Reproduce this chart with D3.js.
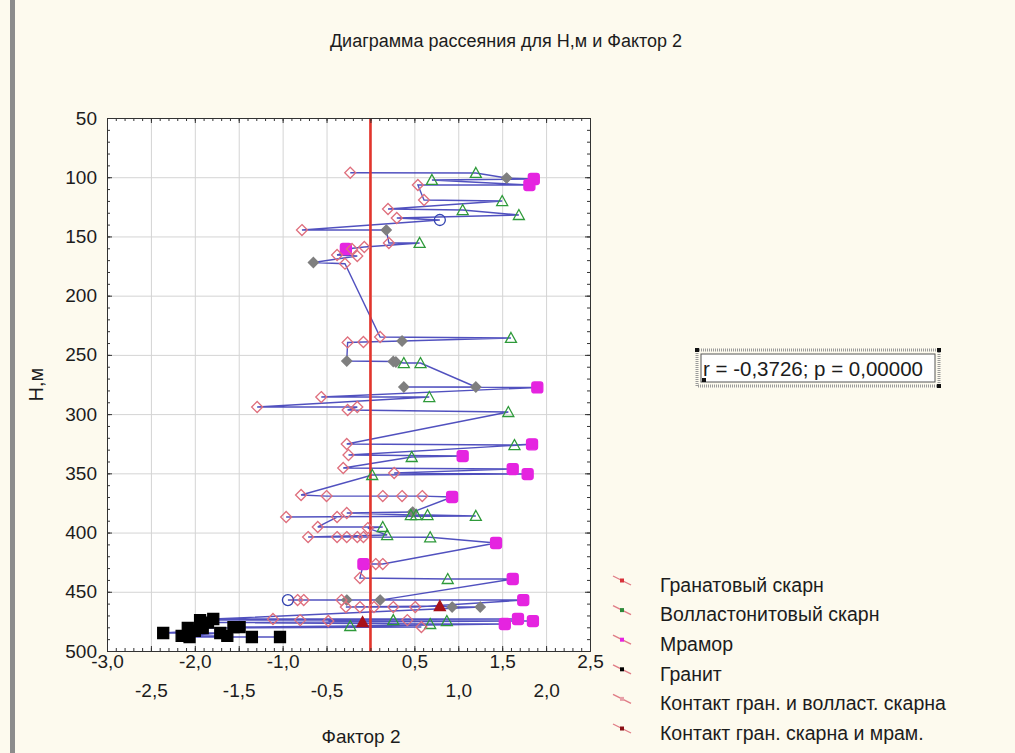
<!DOCTYPE html>
<html>
<head>
<meta charset="utf-8">
<script src="https://cdn.jsdelivr.net/npm/d3@7"></script>
<style>
  body { margin: 0; background: #fdfaee; }
  svg text { font-family: "Liberation Sans", Arial, sans-serif; fill: #1c1c1c; }
</style>
</head>
<body>
<svg id="chart" width="1015" height="753"></svg>
<script>
// legend categories (the 7th, open blue circles, has no visible legend row)
const rockTypes = [
  "Гранатовый скарн",
  "Волластонитовый скарн",
  "Мрамор",
  "Гранит",
  "Контакт гран. и волласт. скарна",
  "Контакт гран. скарна и мрам.",
  ""
];

// samples in depth order: H (m), Factor 2 score, rock type index
const depthM = [
  96.2, 96.4, 100.7, 101.5, 102.3, 106.6, 106.6, 119.2, 120.1, 126.8,
  127.7, 131.9, 134.4, 136.1, 144.6, 144.6, 155.5, 155.5, 158.9, 160.6,
  160.6, 165.7, 166.5, 172.0, 173.0,
  234.9, 235.7, 238.3, 239.1, 239.5, 255.2, 255.6, 256.0, 256.9, 256.9,
  277.1, 277.1, 277.5, 285.6, 285.6, 294.0, 294.0, 296.5, 298.2,
  325.2, 326.1, 325.5, 334.5, 335.4, 336.2, 345.5, 346.4, 349.7, 350.6, 351.4,
  368.3, 369.2, 369.2, 369.2, 369.2, 370.0,
  382.7, 383.5, 385.2, 385.2, 385.2, 386.0, 386.9, 386.9,
  395.3, 395.3, 396.2, 402.1, 403.8, 403.8, 403.8, 403.8, 403.8, 404.0, 408.8,
  426.6, 426.6, 426.6, 438.4, 439.2, 439.2,
  457.0, 457.0, 457.0, 457.0, 457.0, 457.0, 457.0,
  462.9, 462.9, 462.9, 462.9, 462.9, 462.0, 462.9, 462.9,
  473.0, 473.0, 473.0, 473.9, 473.9, 473.9, 473.9, 474.7, 474.7, 474.7,
  475.5, 476.0, 477.2, 477.2, 478.9, 479.8, 479.8, 479.8, 480.6, 480.6,
  483.0, 484.8, 484.8, 487.3, 487.3, 488.2, 488.2, 488.2
];
const factor2 = [
  -0.23, 1.20, 1.55, 1.86, 0.70, 1.81, 0.54, 0.61, 1.50, 0.20,
  1.05, 1.69, 0.30, 0.79, -0.78, 0.18, 0.21, 0.56, -0.07, -0.28,
  -0.21, -0.38, -0.15, -0.65, -0.29,
  0.11, 1.60, 0.36, -0.08, -0.26, -0.27, 0.26, 0.29, 0.38, 0.57,
  1.20, 0.38, 1.90, -0.56, 0.67, -1.29, -0.15, -0.26, 1.57,
  -0.27, 1.64, 1.84, -0.25, 1.05, 0.47, -0.31, 1.62, 0.27, 1.79, 0.02,
  -0.79, -0.50, 0.14, 0.36, 0.59, 0.93,
  0.48, -0.27, 0.46, 0.52, 0.65, 1.20, -0.96, -0.38,
  -0.60, 0.14, -0.03, 0.19, -0.71, -0.38, -0.27, -0.15, -0.08, 0.68, 1.43,
  0.14, 0.06, -0.08, -0.12, 0.88, 1.62,
  0.11, -0.27, -0.33, -0.76, -0.83, -0.94, 1.74,
  0.51, 0.26, 0.04, -0.12, -0.28, 0.79, 0.93, 1.25,
  -1.79, -1.11, 1.68, -1.94, -0.80, 0.26, 0.42, -0.48, 0.87, 1.85,
  -0.09, -1.85, 0.68, 1.53, -0.23, -1.56, -1.49, 0.58, -2.08, -1.91,
  -2.00, -2.36, -1.71, -2.15, -1.63, -2.06, -1.35, -1.03
];
const rockType = [
  0, 1, 4, 2, 1, 2, 0, 0, 1, 0,
  1, 1, 0, 6, 0, 4, 0, 1, 0, 2,
  0, 0, 0, 4, 0,
  0, 1, 4, 0, 0, 4, 4, 4, 1, 1,
  4, 4, 2, 0, 1, 0, 0, 0, 1,
  0, 1, 2, 0, 2, 1, 0, 2, 0, 2, 1,
  0, 0, 0, 0, 0, 2,
  4, 0, 1, 1, 1, 1, 0, 0,
  0, 1, 0, 1, 0, 0, 0, 0, 0, 1, 2,
  0, 0, 2, 0, 1, 2,
  4, 4, 0, 0, 0, 6, 2,
  0, 0, 0, 0, 0, 5, 4, 4,
  3, 0, 2, 3, 0, 1, 0, 0, 1, 2,
  5, 3, 1, 2, 1, 3, 3, 0, 3, 3,
  3, 3, 3, 3, 3, 3, 3, 3
];

const xTicksRow1 = [-3, -2, -1, 0.5, 1.5, 2.5];
const xTicksRow2 = [-2.5, -1.5, -0.5, 1, 2];
const yTicks = [50, 100, 150, 200, 250, 300, 350, 400, 450, 500];
const titleText = "Диаграмма рассеяния для Н,м и Фактор 2";
const corrText = "r = -0,3726; p = 0,00000";

const margin = { top: 118, left: 107, right: 425, bottom: 102 };
const W = 1015, H = 753;
const width = W - margin.left - margin.right;
const height = H - margin.top - margin.bottom;

const svg = d3.select("#chart");
const fmt = d => d.toFixed(1).replace(".", ",");

// left window edge
svg.append("rect").attr("x", 10).attr("y", 0).attr("width", 5).attr("height", H).attr("fill", "#8c8c8c");

svg.append("text")
  .attr("x", 506).attr("y", 47)
  .attr("text-anchor", "middle")
  .style("font-size", "18px")
  .text(titleText);

const x = d3.scaleLinear().domain([-3, 2.5]).range([0, width]);
const y = d3.scaleLinear().domain([50, 500]).range([0, height]);

const g = svg.append("g").attr("transform", "translate(" + margin.left + "," + margin.top + ")");

g.append("rect").attr("width", width).attr("height", height).attr("fill", "#fff");

// grid
g.append("g")
  .attr("transform", "translate(0," + height + ")")
  .call(d3.axisBottom(x).tickValues(d3.range(-3, 2.51, 0.5)).tickSize(-height).tickFormat(""))
  .call(a => a.selectAll("line").attr("stroke", "#d4d4d4"))
  .call(a => a.select(".domain").remove());
g.append("g")
  .call(d3.axisLeft(y).tickValues(yTicks).tickSize(-width).tickFormat(""))
  .call(a => a.selectAll("line").attr("stroke", "#d4d4d4"))
  .call(a => a.select(".domain").remove());

// connecting line through all samples in depth order
const pts = depthM.map((h, i) => ({ h: h, f: factor2[i], t: rockType[i] }));
const line = d3.line().x(d => x(d.f)).y(d => y(d.h));
g.append("path")
  .datum(pts)
  .attr("d", line)
  .attr("fill", "none")
  .attr("stroke", "#3333b4")
  .attr("stroke-opacity", 0.85)
  .attr("stroke-width", 1.4);

// zero reference line
g.append("line")
  .attr("x1", x(0)).attr("x2", x(0))
  .attr("y1", 0).attr("y2", height)
  .attr("stroke", "#e3352c")
  .attr("stroke-width", 2.6);

// markers
const shapes = [
  { d: "M0,-5.5L5.5,0L0,5.5L-5.5,0Z", fill: "none", stroke: "#df6f7d" },
  { d: "M0,-5.5L5.5,4.5L-5.5,4.5Z", fill: "none", stroke: "#2e9a3a" },
  { d: "M-5.5,-3Q-5.5,-5.5 -3,-5.5L3,-5.5Q5.5,-5.5 5.5,-3L5.5,3Q5.5,5.5 3,5.5L-3,5.5Q-5.5,5.5 -5.5,3Z", fill: "#e524e0", stroke: "#e524e0" },
  { d: "M-5.5,-5.5H5.5V5.5H-5.5Z", fill: "#000", stroke: "#000" },
  { d: "M0,-5L5,0L0,5L-5,0Z", fill: "#7f7f7f", stroke: "#7f7f7f" },
  { d: "M0,-5.5L5.5,4.5L-5.5,4.5Z", fill: "#a8121a", stroke: "#a8121a" },
  { d: "M5.5,0A5.5,5.5 0 1,1 -5.5,0A5.5,5.5 0 1,1 5.5,0Z", fill: "none", stroke: "#3344b0" }
];

g.selectAll(".pt")
  .data(pts)
  .enter()
  .append("path")
  .attr("class", "pt")
  .attr("transform", d => "translate(" + x(d.f) + "," + y(d.h) + ")")
  .attr("d", d => shapes[d.t].d)
  .attr("fill", d => shapes[d.t].fill)
  .attr("stroke", d => shapes[d.t].stroke)
  .attr("stroke-width", 1.3);

// axes with inward ticks
function styleAxis(a) {
  a.selectAll("line").attr("stroke", "#333");
  a.select(".domain").attr("stroke", "#333");
  a.selectAll("text").style("font-size", "19px").attr("fill", "#1c1c1c");
}
const minorX = d3.range(-3, 2.501, 0.1);
const minorY = d3.range(50, 500.1, 10);

g.append("g")
  .attr("transform", "translate(0," + height + ")")
  .call(d3.axisBottom(x).tickValues(minorX).tickSizeInner(-3).tickSizeOuter(0).tickFormat(""))
  .call(styleAxis);
g.append("g")
  .attr("transform", "translate(0," + height + ")")
  .call(d3.axisBottom(x).tickValues(xTicksRow1).tickSizeInner(-5).tickSizeOuter(0).tickPadding(4).tickFormat(fmt))
  .call(styleAxis);
g.append("g")
  .attr("transform", "translate(0," + height + ")")
  .call(d3.axisBottom(x).tickValues(xTicksRow2).tickSizeInner(-5).tickSizeOuter(0).tickPadding(33).tickFormat(fmt))
  .call(styleAxis);
g.append("g")
  .call(d3.axisTop(x).tickValues(minorX).tickSizeInner(-3).tickSizeOuter(0).tickFormat(""))
  .call(styleAxis);
g.append("g")
  .call(d3.axisTop(x).tickValues(d3.range(-3, 2.51, 0.5)).tickSizeInner(-5).tickSizeOuter(0).tickFormat(""))
  .call(styleAxis);

g.append("g")
  .call(d3.axisLeft(y).tickValues(minorY).tickSizeInner(-3).tickSizeOuter(0).tickFormat(""))
  .call(styleAxis);
g.append("g")
  .call(d3.axisLeft(y).tickValues(yTicks).tickSizeInner(-5).tickSizeOuter(0).tickPadding(10).tickFormat(d3.format("d")))
  .call(styleAxis);
g.append("g")
  .attr("transform", "translate(" + width + ",0)")
  .call(d3.axisRight(y).tickValues(minorY).tickSizeInner(-3).tickSizeOuter(0).tickFormat(""))
  .call(styleAxis);
g.append("g")
  .attr("transform", "translate(" + width + ",0)")
  .call(d3.axisRight(y).tickValues(yTicks).tickSizeInner(-5).tickSizeOuter(0).tickFormat(""))
  .call(styleAxis);

// axis titles
svg.append("text")
  .attr("transform", "translate(36," + (margin.top + height / 2) + ") rotate(-90)")
  .attr("text-anchor", "middle")
  .attr("dy", "0.35em")
  .style("font-size", "20px")
  .text("Н,м");
svg.append("text")
  .attr("x", 361).attr("y", 743)
  .attr("text-anchor", "middle")
  .style("font-size", "19px")
  .text("Фактор 2");

// correlation label with selection frame
const box = svg.append("g").attr("transform", "translate(697,350)");
box.append("rect").attr("x", 0).attr("y", 0).attr("width", 242).attr("height", 36)
  .attr("fill", "none").attr("stroke", "#9a9a9a").attr("stroke-width", 3).attr("stroke-dasharray", "1,1");
box.append("rect").attr("x", 4).attr("y", 4).attr("width", 234).attr("height", 28)
  .attr("fill", "#fff").attr("stroke", "#555").attr("stroke-width", 1);
[[0, 0], [242, 0], [7, 30], [242, 36]].forEach(c => {
  box.append("rect").attr("x", c[0] - 2).attr("y", c[1] - 2).attr("width", 4).attr("height", 4).attr("fill", "#111");
});
box.append("text")
  .attr("x", 6).attr("y", 19).attr("dy", "0.35em")
  .style("font-size", "20.5px")
  .text(corrText);

// legend
const legendColors = ["#d8323a", "#2e8a3a", "#e524e0", "#000", "#e7a0a8", "#8a0f14"];
const legend = svg.append("g").attr("transform", "translate(622,585)");
rockTypes.slice(0, 6).forEach((name, i) => {
  const row = legend.append("g").attr("transform", "translate(0," + (i * 29.6) + ")");
  row.append("line").attr("x1", -9).attr("y1", -9).attr("x2", 9).attr("y2", 0)
    .attr("stroke", "#e07c86").attr("stroke-width", 1.3);
  row.append("rect").attr("x", -2).attr("y", -6.5).attr("width", 4).attr("height", 4)
    .attr("fill", legendColors[i]);
  row.append("text")
    .attr("x", 38).attr("dy", "0.35em")
    .style("font-size", "19.5px")
    .text(name);
});
</script>
</body>
</html>
